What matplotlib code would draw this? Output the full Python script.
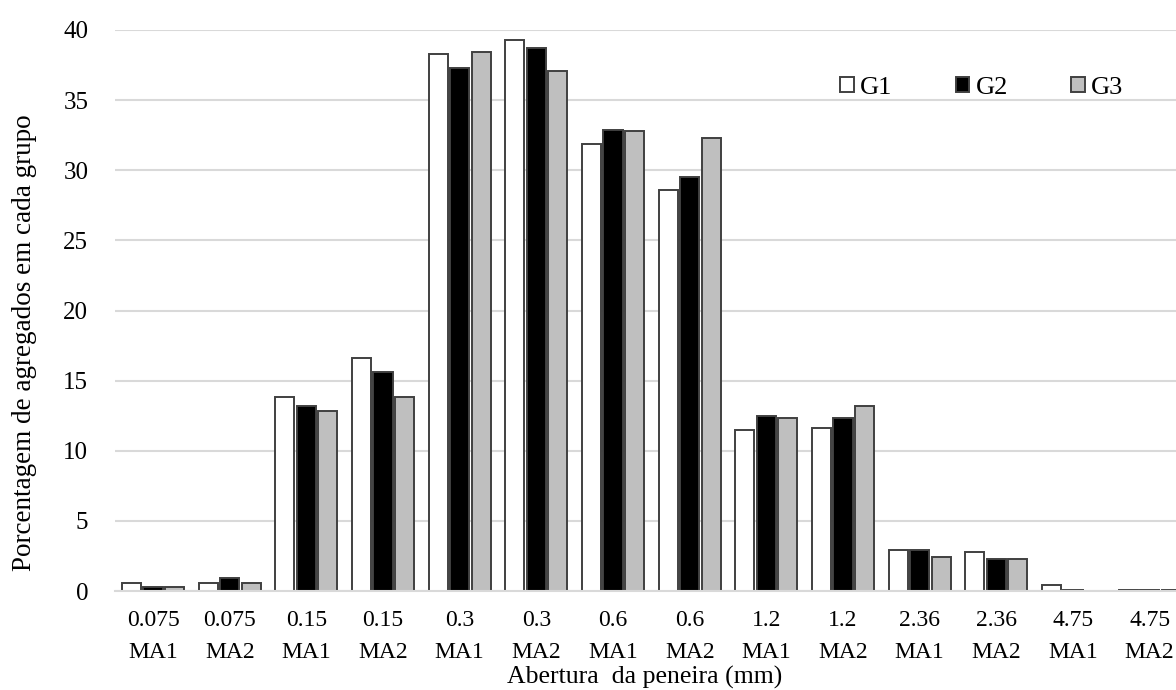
import matplotlib
matplotlib.use("Agg")
import matplotlib.pyplot as plt
import numpy as np

categories = ["0.075\nMA1", "0.075\nMA2", "0.15\nMA1", "0.15\nMA2", "0.3\nMA1", "0.3\nMA2",
              "0.6\nMA1", "0.6\nMA2", "1.2\nMA1", "1.2\nMA2", "2.36\nMA1", "2.36\nMA2",
              "4.75\nMA1", "4.75\nMA2"]
g1 = [0.6, 0.6, 13.8, 16.6, 38.3, 39.3, 31.9, 28.6, 11.5, 11.6, 2.9, 2.8, 0.4, 0.1]
g2 = [0.3, 0.9, 13.2, 15.6, 37.3, 38.7, 32.9, 29.5, 12.5, 12.3, 2.9, 2.3, 0.1, 0.1]
g3 = [0.3, 0.6, 12.8, 13.8, 38.4, 37.1, 32.8, 32.3, 12.3, 13.2, 2.4, 2.3, 0.0, 0.1]
series_names = ["G1", "G2", "G3"]
yticks = [0, 5, 10, 15, 20, 25, 30, 35, 40]

plt.rcParams['font.family'] = ['Liberation Serif', 'DejaVu Serif']

fig = plt.figure(figsize=(11.76, 6.90), dpi=100)
W, H = 1176, 690
left_px, right_px, bottom_px, top_px = 114.7, 1188, 591, 30
ax = fig.add_axes([left_px / W, 1 - bottom_px / H, (right_px - left_px) / W, (bottom_px - top_px) / H])

x = np.arange(len(categories))
bw = 0.25
off = 0.28
colors = ["white", "black", "#bfbfbf"]
edge = "#404040"
for i, (vals, c, name) in enumerate(zip([g1, g2, g3], colors, series_names)):
    ax.bar(x + (i - 1) * off, vals, width=bw, color=c, edgecolor=edge, linewidth=1.4,
           label=name, zorder=3)

ax.set_xlim(-0.5, len(categories) - 0.5)
ax.set_ylim(0, 40)
ax.set_yticks(yticks)
ax.set_yticklabels([str(t) for t in yticks], fontsize=18)
ax.set_xticks(x)
ax.set_xticklabels(categories, fontsize=17, linespacing=1.65)
ax.tick_params(axis='both', length=0)
ax.tick_params(axis='y', pad=19)
ax.tick_params(axis='x', pad=14)
ax.grid(axis='y', color='#d9d9d9', linewidth=1.5, zorder=0)
for s in ['top', 'right', 'left']:
    ax.spines[s].set_visible(False)
ax.spines['bottom'].set_color('#d9d9d9')
ax.spines['bottom'].set_linewidth(1.5)
ax.spines['bottom'].set_zorder(4)

fig.text(25 / W, 1 - 343 / H, "Porcentagem de agregados em cada grupo", fontsize=19.5,
         rotation=90, ha='center', va='center')
fig.text(645 / W, 1 - 677 / H, "Abertura  da peneira (mm)", fontsize=18.5, ha='center', va='center')

leg = ax.legend(loc='center', bbox_to_anchor=(982 / W, 1 - 88 / H), bbox_transform=fig.transFigure,
                ncol=3, frameon=False, fontsize=19, handlelength=0.5, handleheight=0.5,
                handletextpad=0.25, columnspacing=2.4, borderaxespad=0, borderpad=0)

fig.savefig("out.png", dpi=100, facecolor="white")
